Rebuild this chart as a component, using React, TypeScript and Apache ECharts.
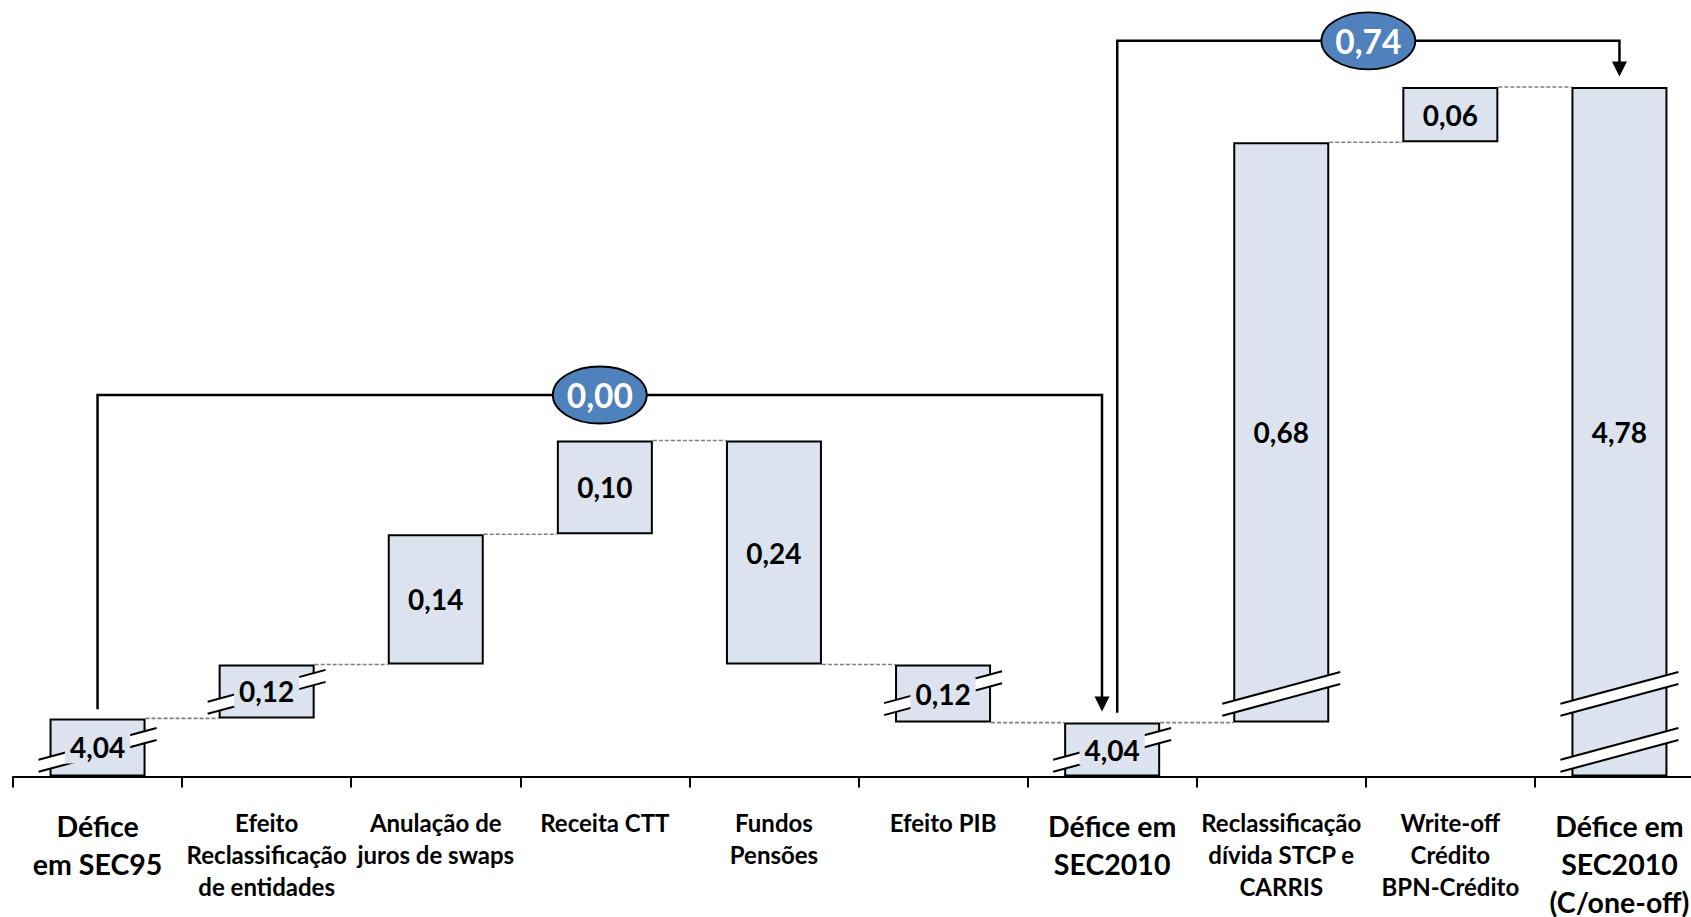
import React, { useEffect, useRef } from "react";
import * as echarts from "echarts";

// ---------- data ----------
const categories = [
  "Défice\nem SEC95",
  "Efeito\nReclassificação\nde entidades",
  "Anulação de\njuros de swaps",
  "Receita CTT",
  "Fundos\nPensões",
  "Efeito PIB",
  "Défice em\nSEC2010",
  "Reclassificação\ndívida STCP e\nCARRIS",
  "Write-off\nCrédito\nBPN-Crédito",
  "Défice em\nSEC2010\n(C/one-off)",
];
const emphasized = [true, false, false, false, false, false, true, false, false, true];

// printed values (% do PIB)
const values = [4.04, 0.12, 0.14, 0.1, 0.24, 0.12, 4.04, 0.68, 0.06, 4.78];

// drawn extents of each bar on the (broken, not-to-scale) value axis
const barLow = [0, 8.3, 16.0, 34.6, 16.0, 7.7, 0, 7.7, 90.6, 0];
const barHigh = [8.3, 16.0, 34.6, 48.0, 48.0, 16.0, 7.7, 90.6, 98.5, 98.5];

// axis-break marks: category index and level
const breakCategory = [0, 1, 5, 6, 7, 9, 9];
const breakLevel = [3.8, 12.1, 11.9, 3.8, 11.8, 11.8, 3.8];

// bridge (total change) annotations
const bridgeValues = [0.0, 0.74];
const bridgeRoutes = [
  [[0, 9.6], [0, 54.5], [5.94, 54.5], [5.94, 9.3]],
  [[6.03, 9.1], [6.03, 105.1], [9, 105.1], [9, 100]],
];

// ---------- styles ----------
const FONT = "Lato, 'Noto Sans', sans-serif";
const BAR_FILL = "#DCE3EE";
const BAR_W = 96;
const fmt = (v: number) => v.toFixed(2).replace(".", ",");

export default function App() {
  const ref = useRef<HTMLDivElement>(null);

  useEffect(() => {
    if (!ref.current) return;
    const chart = echarts.init(ref.current, undefined, { renderer: "svg" });

    const connectors: number[][] = [];
    for (let i = 0; i < categories.length - 1; i++) {
      const a = [barLow[i], barHigh[i]];
      const b = [barLow[i + 1], barHigh[i + 1]];
      let lvl = a[1];
      for (const x of a) for (const y of b) if (Math.abs(x - y) < 1e-6) lvl = x;
      connectors.push([i, lvl]);
    }

    const option: any = {
      animation: false,
      grid: { left: 13, top: 6.5, width: 1691, height: 770, outerBoundsMode: "none", containLabel: false },
      xAxis: [
        {
          type: "category",
          data: categories,
          axisLine: { lineStyle: { color: "#000", width: 2 } },
          axisTick: { show: true, length: 11, lineStyle: { color: "#000", width: 2 } },
          splitLine: { show: false },
          axisLabel: {
            interval: 0,
            margin: 30,
            verticalAlign: "top",
            formatter: (v: string, i: number) => {
              const k = emphasized[i] ? "b" : "s";
              return v
                .split("\n")
                .map((l) => `{${k}|${l}}`)
                .join("\n");
            },
            rich: {
              b: { fontFamily: FONT, fontWeight: "bold", fontSize: 28.5, lineHeight: 38, color: "#000" },
              s: { fontFamily: FONT, fontWeight: "bold", fontSize: 24, lineHeight: 32, color: "#000" },
            },
          },
        },
        { type: "value", min: -0.5, max: 9.5, show: false },
      ],
      yAxis: { type: "value", min: 0, max: 110, show: false },
      series: [
        {
          type: "bar",
          stack: "w",
          data: barLow,
          barWidth: BAR_W,
          silent: true,
          itemStyle: { color: "rgba(0,0,0,0)" },
          z: 2,
        },
        {
          type: "bar",
          stack: "w",
          data: barHigh.map((h, i) => +(h - barLow[i]).toFixed(3)),
          barWidth: BAR_W,
          itemStyle: { color: BAR_FILL, borderColor: "#000", borderWidth: 2 },
          z: 2,
        },
        {
          type: "custom",
          xAxisIndex: 1,
          z: 1,
          data: connectors,
          renderItem: (params: any, api: any) => {
            const i = api.value(0);
            const lvl = api.value(1);
            const p1 = api.coord([i, lvl]);
            const p2 = api.coord([i + 1, lvl]);
            return {
              type: "line",
              shape: { x1: p1[0] + BAR_W / 2, y1: p1[1], x2: p2[0] - BAR_W / 2, y2: p2[1] },
              style: { stroke: "#808080", lineWidth: 1.6, lineDash: [4, 2] },
            };
          },
        },
        {
          type: "custom",
          xAxisIndex: 1,
          z: 3,
          data: breakCategory.map((c, i) => [c, breakLevel[i]]),
          renderItem: (params: any, api: any) => {
            const p = api.coord([api.value(0), api.value(1)]);
            const hw = 59;
            const k = -0.27;
            const g = 12;
            const cx = p[0];
            const cy = p[1];
            const yl = cy - k * hw;
            const yr = cy + k * hw;
            return {
              type: "group",
              children: [
                {
                  type: "polygon",
                  shape: {
                    points: [
                      [cx - hw, yl - g / 2],
                      [cx + hw, yr - g / 2],
                      [cx + hw, yr + g / 2],
                      [cx - hw, yl + g / 2],
                    ],
                  },
                  style: { fill: "#fff", stroke: null },
                },
                {
                  type: "line",
                  shape: { x1: cx - hw, y1: yl - g / 2, x2: cx + hw, y2: yr - g / 2 },
                  style: { stroke: "#000", lineWidth: 2 },
                },
                {
                  type: "line",
                  shape: { x1: cx - hw, y1: yl + g / 2, x2: cx + hw, y2: yr + g / 2 },
                  style: { stroke: "#000", lineWidth: 2 },
                },
              ],
            };
          },
        },
        {
          type: "custom",
          xAxisIndex: 1,
          z: 4,
          data: values.map((v, i) => [i, (barLow[i] + barHigh[i]) / 2, v]),
          renderItem: (params: any, api: any) => {
            const p = api.coord([api.value(0), api.value(1)]);
            return {
              type: "text",
              x: p[0],
              y: p[1],
              style: {
                text: fmt(api.value(2)),
                fontFamily: FONT,
                fontWeight: "bold",
                fontSize: 28,
                fill: "#000",
                align: "center",
                verticalAlign: "middle",
                backgroundColor: BAR_FILL,
                padding: [2, 5, 2, 5],
              },
            };
          },
        },
        {
          type: "custom",
          xAxisIndex: 1,
          z: 5,
          data: bridgeValues.map((v, i) => [i, v]),
          renderItem: (params: any, api: any) => {
            const idx = params.dataIndex;
            const route = bridgeRoutes[idx].map((pt) => api.coord(pt));
            const last = route[route.length - 1];
            const a = route[1];
            const b = route[2];
            const mx = (a[0] + b[0]) / 2;
            const my = a[1];
            const ah = 15;
            const aw = 7.5;
            const lineEnd = [last[0], last[1] - ah + 1];
            return {
              type: "group",
              children: [
                {
                  type: "polyline",
                  shape: { points: [...route.slice(0, -1), lineEnd] },
                  style: { stroke: "#000", lineWidth: 2.5, fill: null },
                },
                {
                  type: "polygon",
                  shape: {
                    points: [
                      [last[0] - aw, last[1] - ah],
                      [last[0] + aw, last[1] - ah],
                      [last[0], last[1]],
                    ],
                  },
                  style: { fill: "#000" },
                },
                {
                  type: "ellipse",
                  shape: { cx: mx, cy: my, rx: 47, ry: 28.5 },
                  style: { fill: "#4F81BD", stroke: "#000", lineWidth: 1.8 },
                },
                {
                  type: "text",
                  x: mx,
                  y: my,
                  style: {
                    text: fmt(api.value(1)),
                    fontFamily: FONT,
                    fontWeight: "bold",
                    fontSize: 33.5,
                    fill: "#fff",
                    align: "center",
                    verticalAlign: "middle",
                  },
                },
              ],
            };
          },
        },
      ],
    };

    chart.setOption(option);
    return () => chart.dispose();
  }, []);

  return (
    <div
      ref={ref}
      style={{ position: "fixed", left: 0, top: 0, width: 1691, height: 917, background: "#fff" }}
    />
  );
}
